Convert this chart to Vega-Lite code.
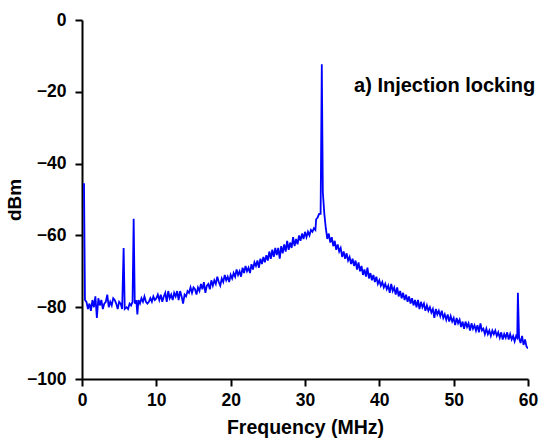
{
  "$schema": "https://vega.github.io/schema/vega-lite/v6.json",
  "width": 446,
  "height": 359,
  "autosize": "none",
  "padding": {"left": 82, "top": 20, "right": 14, "bottom": 59},
  "config": {
    "view": {"stroke": null},
    "font": "Liberation Sans"
  },
  "datasets": {
    "spectrum": [
      {"f":0.27,"p":-45.5},{"f":0.4,"p":-78},{"f":0.6,"p":-78.5},{"f":0.8,"p":-80.5},{"f":1.0,"p":-79},{"f":1.2,"p":-81},{"f":1.4,"p":-78},{"f":1.6,"p":-80},{"f":1.8,"p":-77},{"f":2.0,"p":-83},{"f":2.2,"p":-77.5},{"f":2.4,"p":-79.5},{"f":2.6,"p":-78},{"f":2.8,"p":-80.5},{"f":3.0,"p":-79},{"f":3.2,"p":-78.5},{"f":3.4,"p":-76.5},{"f":3.6,"p":-80},{"f":3.8,"p":-78.5},{"f":4.0,"p":-79.5},{"f":4.2,"p":-77.5},{"f":4.4,"p":-78},{"f":4.6,"p":-79},{"f":4.8,"p":-80.5},{"f":5.0,"p":-78.5},{"f":5.2,"p":-79},{"f":5.4,"p":-80.5},{"f":5.6,"p":-63.5},{"f":5.75,"p":-80.5},{"f":6.0,"p":-80},{"f":6.2,"p":-80.5},{"f":6.4,"p":-79},{"f":6.6,"p":-79.5},{"f":6.8,"p":-78.5},{"f":6.95,"p":-55.4},{"f":7.1,"p":-79},{"f":7.3,"p":-78},{"f":7.45,"p":-82},{"f":7.6,"p":-78},{"f":7.8,"p":-79},{"f":8.0,"p":-77.5},{"f":8.2,"p":-78.5},{"f":8.4,"p":-77},{"f":8.6,"p":-78.5},{"f":8.8,"p":-79},{"f":9.0,"p":-78.5},{"f":9.2,"p":-77.5},{"f":9.4,"p":-78.5},{"f":9.6,"p":-77},{"f":9.8,"p":-78},{"f":10.0,"p":-77.5},{"f":10.2,"p":-76.5},{"f":10.4,"p":-78},{"f":10.6,"p":-76.5},{"f":10.8,"p":-78.5},{"f":11.0,"p":-77},{"f":11.2,"p":-76},{"f":11.4,"p":-78.5},{"f":11.6,"p":-75.5},{"f":11.8,"p":-77.5},{"f":12.0,"p":-76.5},{"f":12.2,"p":-78},{"f":12.4,"p":-76},{"f":12.6,"p":-77},{"f":12.8,"p":-75.5},{"f":13.0,"p":-78},{"f":13.2,"p":-75.5},{"f":13.4,"p":-77},{"f":13.6,"p":-79},{"f":13.8,"p":-76.5},{"f":14.0,"p":-77},{"f":14.2,"p":-75.5},{"f":14.4,"p":-76},{"f":14.6,"p":-74.5},{"f":14.8,"p":-76},{"f":15.0,"p":-74.5},{"f":15.2,"p":-75},{"f":15.4,"p":-76.5},{"f":15.6,"p":-74.5},{"f":15.8,"p":-75.5},{"f":16.0,"p":-73.5},{"f":16.2,"p":-75},{"f":16.4,"p":-73},{"f":16.6,"p":-76},{"f":16.8,"p":-74},{"f":17.0,"p":-73.5},{"f":17.2,"p":-75},{"f":17.4,"p":-72.5},{"f":17.6,"p":-74},{"f":17.8,"p":-72.5},{"f":18.0,"p":-73.5},{"f":18.2,"p":-71.5},{"f":18.4,"p":-73},{"f":18.6,"p":-74},{"f":18.8,"p":-72},{"f":19.0,"p":-73},{"f":19.2,"p":-71},{"f":19.4,"p":-72.5},{"f":19.6,"p":-71.5},{"f":19.8,"p":-73},{"f":20.0,"p":-71},{"f":20.2,"p":-72},{"f":20.4,"p":-70.5},{"f":20.6,"p":-71.5},{"f":20.8,"p":-69.5},{"f":21.0,"p":-71},{"f":21.2,"p":-70},{"f":21.4,"p":-71.5},{"f":21.6,"p":-69},{"f":21.8,"p":-70.5},{"f":22.0,"p":-68.5},{"f":22.2,"p":-70},{"f":22.4,"p":-69},{"f":22.6,"p":-70.5},{"f":22.8,"p":-68},{"f":23.0,"p":-69.5},{"f":23.2,"p":-67.5},{"f":23.4,"p":-68.5},{"f":23.6,"p":-67},{"f":23.8,"p":-69},{"f":24.0,"p":-66.5},{"f":24.2,"p":-68},{"f":24.4,"p":-66},{"f":24.6,"p":-67.5},{"f":24.8,"p":-65.5},{"f":25.0,"p":-67},{"f":25.2,"p":-64.5},{"f":25.4,"p":-66.5},{"f":25.6,"p":-64},{"f":25.8,"p":-66},{"f":26.0,"p":-63.5},{"f":26.2,"p":-65.5},{"f":26.4,"p":-63.5},{"f":26.6,"p":-66.5},{"f":26.8,"p":-63},{"f":27.0,"p":-65},{"f":27.2,"p":-62.5},{"f":27.4,"p":-64.5},{"f":27.6,"p":-61.5},{"f":27.8,"p":-64},{"f":28.0,"p":-62},{"f":28.2,"p":-63.5},{"f":28.4,"p":-60.5},{"f":28.6,"p":-63},{"f":28.8,"p":-61},{"f":29.0,"p":-62.5},{"f":29.2,"p":-60},{"f":29.4,"p":-61.5},{"f":29.6,"p":-59.5},{"f":29.8,"p":-61},{"f":30.0,"p":-59},{"f":30.2,"p":-60.5},{"f":30.4,"p":-59},{"f":30.6,"p":-60},{"f":30.8,"p":-58.5},{"f":31.0,"p":-59},{"f":31.2,"p":-58},{"f":31.4,"p":-58.5},{"f":31.5,"p":-55.5},{"f":31.7,"p":-55},{"f":31.9,"p":-54},{"f":32.1,"p":-54},{"f":32.26,"p":-12.3},{"f":32.4,"p":-48},{"f":32.6,"p":-54},{"f":32.8,"p":-58},{"f":33.0,"p":-61},{"f":33.2,"p":-59.5},{"f":33.4,"p":-62},{"f":33.6,"p":-60.5},{"f":33.8,"p":-63},{"f":34.0,"p":-61.5},{"f":34.2,"p":-64},{"f":34.4,"p":-62.5},{"f":34.6,"p":-64.5},{"f":34.8,"p":-63.5},{"f":35.0,"p":-66},{"f":35.2,"p":-64.5},{"f":35.4,"p":-66.5},{"f":35.6,"p":-65},{"f":35.8,"p":-67},{"f":36.0,"p":-66},{"f":36.2,"p":-68},{"f":36.4,"p":-66.5},{"f":36.6,"p":-68.5},{"f":36.8,"p":-67},{"f":37.0,"p":-69.5},{"f":37.2,"p":-67.5},{"f":37.4,"p":-70},{"f":37.6,"p":-68.5},{"f":37.8,"p":-71},{"f":38.0,"p":-69.5},{"f":38.2,"p":-71.5},{"f":38.4,"p":-69},{"f":38.6,"p":-72},{"f":38.8,"p":-70.5},{"f":39.0,"p":-72.5},{"f":39.2,"p":-71},{"f":39.4,"p":-73},{"f":39.6,"p":-71.5},{"f":39.8,"p":-73.5},{"f":40.0,"p":-72.5},{"f":40.2,"p":-74},{"f":40.4,"p":-73},{"f":40.6,"p":-74.5},{"f":40.8,"p":-73.5},{"f":41.0,"p":-75},{"f":41.2,"p":-74},{"f":41.4,"p":-76},{"f":41.6,"p":-73.5},{"f":41.8,"p":-75.5},{"f":42.0,"p":-74.5},{"f":42.2,"p":-76.5},{"f":42.4,"p":-74.5},{"f":42.6,"p":-77},{"f":42.8,"p":-75.5},{"f":43.0,"p":-77.5},{"f":43.2,"p":-76},{"f":43.4,"p":-78},{"f":43.6,"p":-76.5},{"f":43.8,"p":-78.5},{"f":44.0,"p":-77},{"f":44.2,"p":-79},{"f":44.4,"p":-77.5},{"f":44.6,"p":-79.5},{"f":44.8,"p":-78},{"f":45.0,"p":-80},{"f":45.2,"p":-78},{"f":45.4,"p":-80.5},{"f":45.6,"p":-78.5},{"f":45.8,"p":-80},{"f":46.0,"p":-79},{"f":46.2,"p":-81},{"f":46.4,"p":-79.5},{"f":46.6,"p":-81},{"f":46.8,"p":-80},{"f":47.0,"p":-81.5},{"f":47.2,"p":-80.5},{"f":47.4,"p":-83},{"f":47.6,"p":-80.5},{"f":47.8,"p":-82},{"f":48.0,"p":-81},{"f":48.2,"p":-82.5},{"f":48.4,"p":-81},{"f":48.6,"p":-83},{"f":48.8,"p":-82},{"f":49.0,"p":-83.5},{"f":49.2,"p":-82},{"f":49.4,"p":-84},{"f":49.6,"p":-82.5},{"f":49.8,"p":-84},{"f":50.0,"p":-83},{"f":50.2,"p":-85},{"f":50.4,"p":-83},{"f":50.6,"p":-84.5},{"f":50.8,"p":-83.5},{"f":51.0,"p":-85.5},{"f":51.2,"p":-84},{"f":51.4,"p":-86},{"f":51.6,"p":-84},{"f":51.8,"p":-85.5},{"f":52.0,"p":-84.5},{"f":52.2,"p":-86.5},{"f":52.4,"p":-84.5},{"f":52.6,"p":-86},{"f":52.8,"p":-85},{"f":53.0,"p":-86.5},{"f":53.2,"p":-85},{"f":53.4,"p":-87},{"f":53.6,"p":-84.5},{"f":53.8,"p":-86.5},{"f":54.0,"p":-86},{"f":54.2,"p":-87.5},{"f":54.4,"p":-86},{"f":54.6,"p":-87.5},{"f":54.8,"p":-86.5},{"f":55.0,"p":-88},{"f":55.2,"p":-86.5},{"f":55.4,"p":-87.5},{"f":55.6,"p":-86.5},{"f":55.8,"p":-88},{"f":56.0,"p":-87},{"f":56.2,"p":-88.5},{"f":56.4,"p":-87},{"f":56.6,"p":-89},{"f":56.8,"p":-87.5},{"f":57.0,"p":-88.5},{"f":57.2,"p":-87},{"f":57.4,"p":-89},{"f":57.6,"p":-87.5},{"f":57.8,"p":-89},{"f":58.0,"p":-88},{"f":58.2,"p":-89.5},{"f":58.4,"p":-88},{"f":58.55,"p":-88.5},{"f":58.64,"p":-76},{"f":58.8,"p":-88.5},{"f":59.0,"p":-90},{"f":59.2,"p":-88},{"f":59.4,"p":-90.5},{"f":59.6,"p":-89},{"f":59.8,"p":-91},{"f":60.0,"p":-91.5}
    ],
    "note": [{"f": 36.6, "p": -20.1, "label": "a) Injection locking"}]
  },
  "layer": [
    {
      "data": {"name": "spectrum"},
      "mark": {"type": "line", "color": "#0000FF", "strokeWidth": 1.8, "clip": true},
      "encoding": {
        "x": {
          "field": "f", "type": "quantitative",
          "scale": {"domain": [0, 60], "nice": false, "zero": false},
          "axis": {
            "title": "Frequency (MHz)",
            "values": [0, 5, 10, 15, 20, 25, 30, 35, 40, 45, 50, 55, 60],
            "labelExpr": "datum.value % 10 === 0 ? datum.label : ''",
            "grid": false,
            "domainColor": "#000000", "domainWidth": 2,
            "tickColor": "#000000", "tickWidth": 2,
            "tickSize": {"condition": {"test": "datum.value % 10 === 0", "value": 7}, "value": 4.5},
            "labelFont": "Liberation Sans", "labelFontSize": 17.5, "labelFontWeight": "bold", "labelColor": "#000000",
            "labelPadding": 5, "labelFlush": false, "labelOverlap": false,
            "titleFont": "Liberation Sans", "titleFontSize": 19.5, "titleFontWeight": "bold", "titleColor": "#000000",
            "titlePadding": 10
          }
        },
        "y": {
          "field": "p", "type": "quantitative",
          "scale": {"domain": [-100, 0], "nice": false, "zero": false},
          "axis": {
            "title": "dBm",
            "values": [-100, -90, -80, -70, -60, -50, -40, -30, -20, -10, 0],
            "labelExpr": "datum.value % 20 === 0 ? datum.label : ''",
            "grid": false,
            "domainColor": "#000000", "domainWidth": 2,
            "tickColor": "#000000", "tickWidth": 2,
            "tickSize": {"condition": {"test": "datum.value % 20 === 0", "value": 7}, "value": 4.5},
            "labelFont": "Liberation Sans", "labelFontSize": 17.5, "labelFontWeight": "bold", "labelColor": "#000000",
            "labelPadding": 9, "labelFlush": false, "labelOverlap": false,
            "titleFont": "Liberation Sans", "titleFontSize": 19, "titleFontWeight": "bold", "titleColor": "#000000",
            "titlePadding": 2
          }
        }
      }
    },
    {
      "data": {"name": "note"},
      "mark": {"type": "text", "align": "left", "baseline": "alphabetic", "font": "Liberation Sans", "fontSize": 20, "fontWeight": "bold", "color": "#000000"},
      "encoding": {
        "x": {"field": "f", "type": "quantitative"},
        "y": {"field": "p", "type": "quantitative"},
        "text": {"field": "label"}
      }
    }
  ]
}
